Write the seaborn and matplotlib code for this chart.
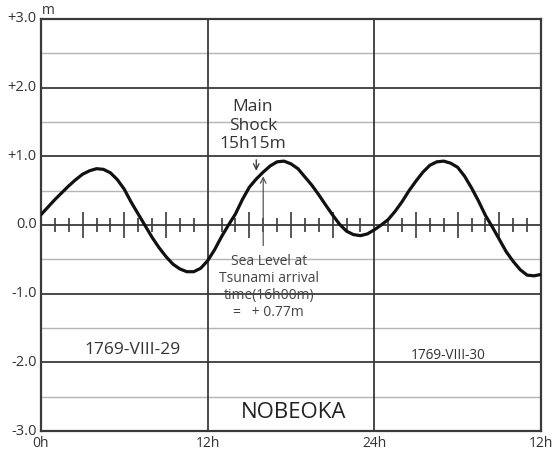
import numpy as np
import pandas as pd
import seaborn as sns
import matplotlib.pyplot as plt
import matplotlib.transforms as mtrans

# half-hourly sea level (m), 1769-VIII-29 0h .. VIII-30 12h
hours = np.arange(0, 36.5, 0.5)
level = [0.15, 0.26, 0.37, 0.47, 0.57, 0.66, 0.74, 0.79, 0.82, 0.81,
         0.76, 0.66, 0.52, 0.33, 0.16, -0.01, -0.18, -0.33, -0.46, -0.57,
         -0.64, -0.68, -0.68, -0.63, -0.52, -0.36, -0.17, 0.00, 0.16, 0.37,
         0.55, 0.67, 0.77, 0.86, 0.92, 0.93, 0.89, 0.82, 0.70, 0.58,
         0.44, 0.29, 0.145, 0.01, -0.09, -0.14, -0.155, -0.13, -0.07, 0.00,
         0.08, 0.20, 0.34, 0.50, 0.64, 0.77, 0.87, 0.92, 0.93, 0.90,
         0.84, 0.71, 0.54, 0.35, 0.14, -0.03, -0.21, -0.39, -0.53, -0.65,
         -0.73, -0.74, -0.72]

ytick_vals = [3, 2, 1, 0, -1, -2, -3]
ytick_labels = ['+3.0', '+2.0', '+1.0', '0.0', '-1.0', '-2.0', '-3.0']
xtick_vals = [0, 12, 24, 36]
xtick_labels = ['0h', '12h', '24h', '12h']
hour_marks = list(range(1, 36))

shock_time = 15.25
arrival_time = 16.0
arrival_level = 0.77

df = pd.DataFrame({'hour': hours, 'level': level})

sns.set_style('white')
plt.rcParams['font.family'] = ['Open Sans', 'DejaVu Sans']

fig = plt.figure(figsize=(5.56, 4.52), dpi=100)
ax = fig.add_axes([0.0737, 0.0442, 0.8993, 0.9116])

dark = '#3a3a3a'
light = '#b4b4b4'
txt = '#333333'

# grid
for y in [-2.5, -1.5, -0.5, 0.5, 1.5, 2.5]:
    ax.axhline(y, color=light, lw=1.0, zorder=1)
for y in [-2, -1, 0, 1, 2]:
    ax.axhline(y, color=dark, lw=1.3, zorder=2)
for x in [12, 24]:
    ax.axvline(x, color=dark, lw=1.3, zorder=2)

# hour ticks on the zero line
for h in hour_marks:
    if h % 12 == 0:
        continue
    half = 0.19 if h % 3 == 0 else 0.10
    ax.vlines(h, -half, half, color=dark, lw=1.2, zorder=2)

sns.lineplot(data=df, x='hour', y='level', color='#111111', lw=2.3, ax=ax, zorder=4)

ax.set_xlim(0, 36)
ax.set_ylim(-3, 3)
ax.set_xticks(xtick_vals)
ax.set_xticklabels(xtick_labels, fontsize=10, color=txt)
ax.set_yticks(ytick_vals)
ax.set_yticklabels(ytick_labels, fontsize=10.5, color=txt)
ax.tick_params(length=0, pad=3)
shift = mtrans.ScaledTranslation(0, 3 / 100, fig.dpi_scale_trans)
for lab in ax.get_yticklabels():
    lab.set_transform(lab.get_transform() + shift)
ax.set_xlabel('')
ax.set_ylabel('')
for s in ax.spines.values():
    s.set_color(dark)
    s.set_linewidth(1.6)
ax.text(0.1, 3.03, 'm', fontsize=10, color=txt, va='bottom', ha='left')

# main shock
ax.text(shock_time, 1.46, 'Main\nShock\n15h15m', fontsize=12.5, color=txt,
        ha='center', va='center', linespacing=1.2, zorder=5)
ax.annotate('', xy=(shock_time + 0.25, 0.75), xytext=(shock_time + 0.25, 0.99),
            arrowprops=dict(arrowstyle='->', color=txt, lw=0.9), zorder=5)

# tsunami arrival
ax.annotate('', xy=(arrival_time, arrival_level - 0.02), xytext=(arrival_time, -0.34),
            arrowprops=dict(arrowstyle='->', color='#555555', lw=0.9), zorder=5)
ax.text(16.4, -0.89, 'Sea Level at\nTsunami arrival\ntime(16h00m)\n=   + 0.77m',
        fontsize=10, color='#444444', ha='center', va='center', linespacing=1.2, zorder=5)

ax.text(6.6, -1.80, '1769-VIII-29', fontsize=12.5, color=txt, ha='center', va='center')
ax.text(29.3, -1.88, '1769-VIII-30', fontsize=9.8, color=txt, ha='center', va='center')
ax.text(18.2, -2.72, 'NOBEOKA', fontsize=16, color='#222222', ha='center', va='center')

plt.savefig('out.png', dpi=100)
